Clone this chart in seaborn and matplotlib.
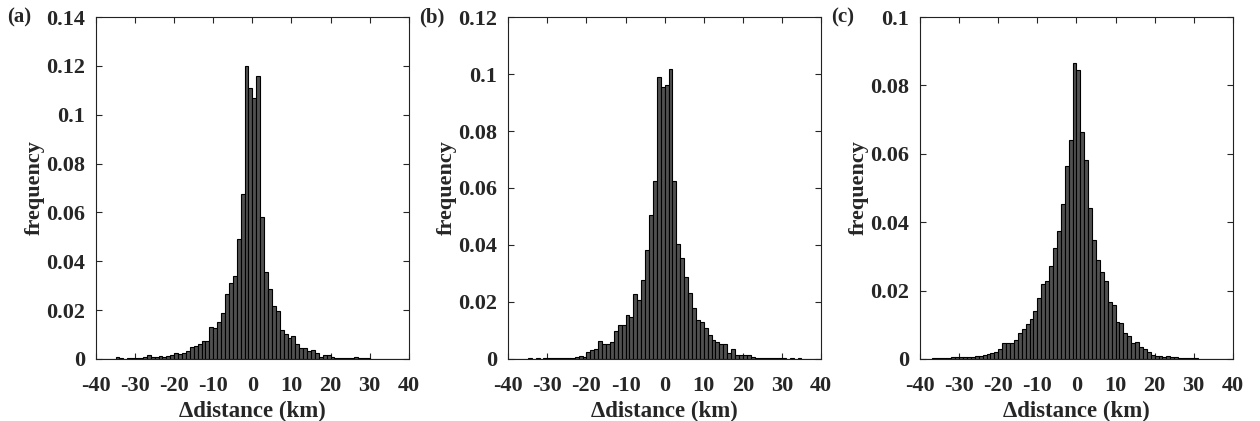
import numpy as np
import pandas as pd
import matplotlib
matplotlib.use("Agg")
import matplotlib.pyplot as plt
import seaborn as sns
from matplotlib.ticker import FuncFormatter

# bin left edges, 1 km wide bins from -40 to 40
bin_left = list(range(-40, 40))

# relative frequency per bin (k = -40 ... 39)
freq_a = [0, 0, 0, 0, 0,
          0.0007, 0.0002, 0.0001, 0.0002, 0.0003, 0.0004, 0.0006, 0.0010, 0.0018, 0.0010,
          0.0007, 0.0011, 0.0010, 0.0012, 0.0015, 0.0025, 0.0019, 0.0026, 0.0034, 0.0049,
          0.0052, 0.0060, 0.0075, 0.0075, 0.0130, 0.0128, 0.0150, 0.0190, 0.0268, 0.0310,
          0.0340, 0.0490, 0.0676, 0.1198, 0.1110,
          0.1070, 0.1160, 0.0580, 0.0358, 0.0285, 0.0217, 0.0197, 0.0118, 0.0102, 0.0086,
          0.0094, 0.0062, 0.0046, 0.0043, 0.0034, 0.0035, 0.0026, 0.0009, 0.0018, 0.0015,
          0.0007, 0.0005, 0.0004, 0.0002, 0.0002, 0.0002, 0.0008, 0.0005, 0.0002, 0.0006,
          0, 0, 0, 0, 0, 0, 0, 0, 0, 0]

freq_b = [0, 0, 0, 0, 0,
          0.0002, 0.0001, 0.0002, 0.0001, 0.0002, 0.0003, 0.0002, 0.0004, 0.0003, 0.0005,
          0.0005, 0.0005, 0.0006, 0.0009, 0.0007, 0.0023, 0.0032, 0.0035, 0.0063, 0.0051,
          0.0051, 0.0058, 0.0098, 0.0119, 0.0120, 0.0154, 0.0149, 0.0227, 0.0207, 0.0276,
          0.0383, 0.0505, 0.0623, 0.0989, 0.0954,
          0.0961, 0.1018, 0.0623, 0.0403, 0.0354, 0.0288, 0.0230, 0.0180, 0.0138, 0.0130,
          0.0110, 0.0083, 0.0066, 0.0058, 0.0052, 0.0051, 0.0021, 0.0035, 0.0013, 0.0015,
          0.0014, 0.0015, 0.0006, 0.0003, 0.0003, 0.0002, 0.0004, 0.0003, 0.0002, 0.0002,
          0.0003, 0.0001, 0.0003, 0.0001, 0.0002, 0, 0, 0, 0, 0]

freq_c = [0, 0, 0, 0.0002, 0.0002,
          0.0003, 0.0003, 0.0003, 0.0006, 0.0005, 0.0007, 0.0006, 0.0006, 0.0006, 0.0009,
          0.0010, 0.0012, 0.0015, 0.0017, 0.0021, 0.0029, 0.0046, 0.0046, 0.0048, 0.0055,
          0.0077, 0.0089, 0.0103, 0.0116, 0.0139, 0.0177, 0.0220, 0.0229, 0.0272, 0.0324,
          0.0374, 0.0454, 0.0565, 0.0640, 0.0865,
          0.0845, 0.0665, 0.0581, 0.0441, 0.0348, 0.0290, 0.0255, 0.0229, 0.0168, 0.0158,
          0.0109, 0.0104, 0.0076, 0.0068, 0.0048, 0.0051, 0.0035, 0.0029, 0.0021, 0.0012,
          0.0010, 0.0008, 0.0007, 0.0009, 0.0005, 0.0005, 0.0003, 0.0002, 0.0003, 0.0004,
          0.0002, 0.0001, 0, 0, 0, 0, 0, 0, 0, 0]

panel_tags = ["(a)", "(b)", "(c)"]
y_max = [0.14, 0.12, 0.1]
x_ticks = list(range(-40, 41, 10))

sns.set_style("ticks")
plt.rcParams["font.family"] = ["Liberation Serif", "DejaVu Serif"]
plt.rcParams["font.weight"] = "bold"
plt.rcParams["axes.labelweight"] = "bold"
plt.rcParams["axes.unicode_minus"] = False

fig = plt.figure(figsize=(12.6, 4.21), dpi=100)
lefts = [0.0762, 0.4034, 0.7302]

for i, freq in enumerate([freq_a, freq_b, freq_c]):
    ax = fig.add_axes([lefts[i], 0.1473, 0.2482, 0.8123])
    df = pd.DataFrame({"x": [b + 0.5 for b in bin_left], "f": freq})
    sns.histplot(data=df, x="x", weights="f", binwidth=1, binrange=(-40, 40), ax=ax,
                 color="#505050", edgecolor="black", linewidth=0.8, alpha=1)
    ax.set_xlim(-40, 40)
    ax.set_ylim(0, y_max[i])
    ax.set_xticks(x_ticks)
    ax.set_yticks(np.round(np.arange(0, y_max[i] + 1e-9, 0.02), 2))
    ax.yaxis.set_major_formatter(FuncFormatter(lambda v, p: "%g" % v))
    ax.tick_params(direction="in", top=True, right=True, length=4, width=0.8,
                   labelsize=16)
    ax.tick_params(axis="x", pad=12)
    ax.tick_params(axis="y", pad=8)
    for s in ax.spines.values():
        s.set_linewidth(0.8)
        s.set_color("#222222")
    ax.set_xlabel("Δdistance (km)", fontsize=16.5, fontweight="bold", labelpad=4)
    ax.set_ylabel("frequency", fontsize=16, fontweight="bold", labelpad=1)
    fig.text(lefts[i] - 0.0705, 0.958, panel_tags[i], fontsize=15, fontweight="bold",
             va="center", ha="left")

fig.savefig("out.png", dpi=100)
